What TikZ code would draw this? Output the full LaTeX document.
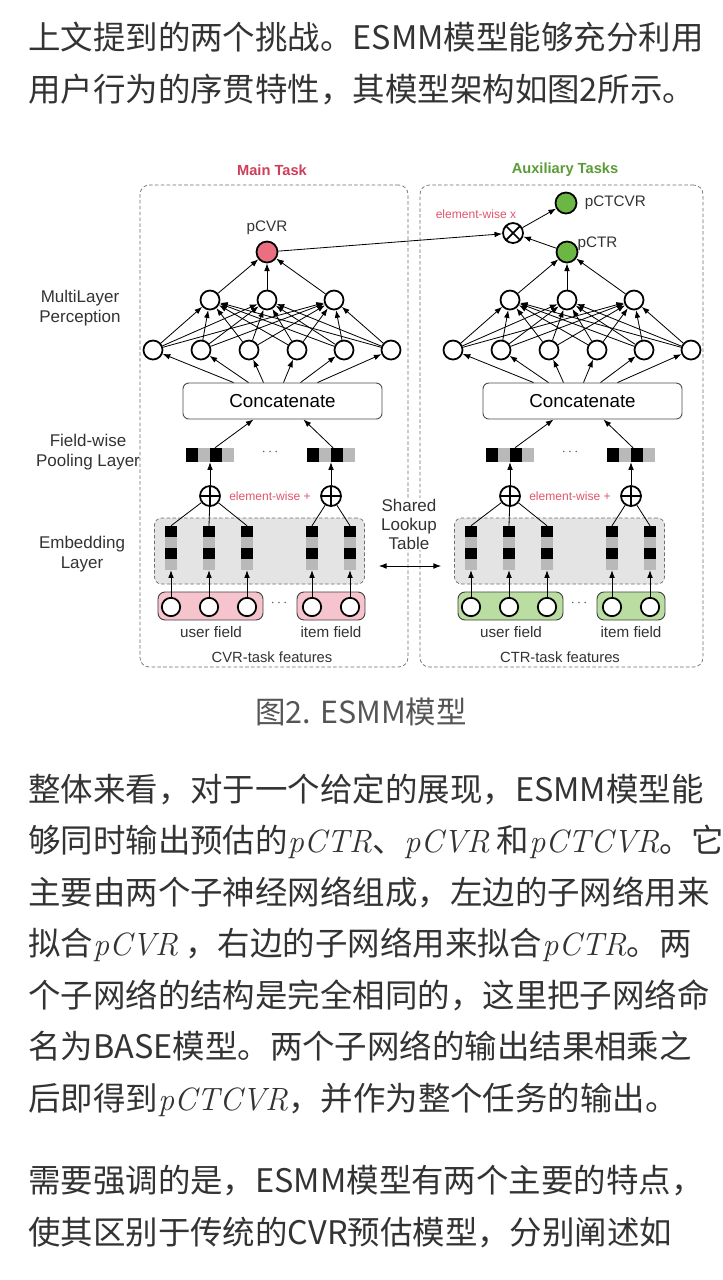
\documentclass[tikz,border=0pt]{standalone}
\usepackage{fontspec}
\setmainfont{Liberation Sans}
\newfontfamily\cjkfont{Noto Sans CJK SC}
\newcommand\pvar[1]{{\fontfamily{lmr}\fontsize{27.5}{33}\selectfont\itshape #1}}
\definecolor{TextGray}{HTML}{333333}
\definecolor{CaptionGray}{HTML}{555555}
\definecolor{MainRed}{HTML}{CF3E5B}
\definecolor{MulRed}{HTML}{E0566D}
\definecolor{AuxGreen}{HTML}{5B9B35}
\definecolor{OutRed}{HTML}{EC6F81}
\definecolor{OutGreen}{HTML}{6CB744}
\definecolor{PinkIn}{HTML}{F5C4CD}
\definecolor{GreenIn}{HTML}{BADDA1}
\definecolor{EmbGray}{HTML}{E4E4E4}
\definecolor{CellGray}{HTML}{B9B9B9}
\definecolor{DashGray}{HTML}{6E6E6E}
\usetikzlibrary{arrows.meta, positioning, calc}
\tikzset{
  neuron/.style={circle, draw=black, line width=1.5pt, fill=white, minimum size=0.57cm, inner sep=0pt},
  opnode/.style={neuron, minimum size=0.6cm},
  plusop/.style={opnode, path picture={\draw[line width=1.5pt] (path picture bounding box.north) -- (path picture bounding box.south) (path picture bounding box.west) -- (path picture bounding box.east);}},
  timesop/.style={opnode, path picture={\draw[line width=1.5pt] (path picture bounding box.north west) -- (path picture bounding box.south east) (path picture bounding box.north east) -- (path picture bounding box.south west);}},
  arr/.style={-{Latex[length=2.3mm, width=1.7mm]}, line width=0.7pt},
  bodyline/.style={anchor=base west, inner sep=0pt, text=TextGray, font=\cjkfont\fontsize{27.7}{33}\selectfont}
}

\begin{document}
\begin{tikzpicture}[x=0.03cm, y=-0.03cm,
  taskbox/.style={draw=DashGray, dash pattern=on 3pt off 2pt, line width=0.6pt, rounded corners=8pt, minimum height=14.46cm},
  title/.style={font=\bfseries\fontsize{12.5}{15}\selectfont},
  lbl/.style={align=center, text=TextGray, font=\fontsize{14.5}{17}\selectfont},
  featlbl/.style={text=TextGray, font=\fontsize{12.6}{15}\selectfont},
  fieldlbl/.style={text=TextGray, font=\fontsize{13}{15}\selectfont},
  outlbl/.style={text=TextGray, font=\fontsize{13}{15}\selectfont},
  oplbl/.style={text=MulRed, font=\fontsize{10.3}{12}\selectfont},
  concat/.style={draw=black!70, line width=0.8pt, rounded corners=5pt, fill=white, minimum width=5.97cm, minimum height=1.08cm, font=\fontsize{16}{19}\selectfont},
  embbox/.style={draw=DashGray, dash pattern=on 3pt off 2pt, line width=0.6pt, rounded corners=6pt, fill=EmbGray, minimum width=6.3cm, minimum height=1.98cm},
  infield/.style={draw=black!75, line width=0.8pt, rounded corners=6pt, minimum height=0.84cm},
  embcol/.style={minimum width=0.36cm, minimum height=1.32cm, inner sep=0pt, fill=CellGray, path picture={
    \fill[black] (path picture bounding box.north west) rectangle ++(0.36cm,-0.33cm);
    \fill[black] ([yshift=-0.66cm]path picture bounding box.north west) rectangle ++(0.36cm,-0.33cm);}},
  poolvec/.style={minimum width=1.44cm, minimum height=0.42cm, inner sep=0pt, fill=CellGray, path picture={
    \fill[black] (path picture bounding box.south west) rectangle ++(0.36cm,0.42cm);
    \fill[black] ([xshift=0.72cm]path picture bounding box.south west) rectangle ++(0.36cm,0.42cm);}},
  dots/.style={text=black!70, font=\fontsize{12}{14}\selectfont}
]
\fill[white] (0,0) rectangle (722,1280);
\useasboundingbox (0,0) rectangle (722,1280);

% text above the figure
\node[bodyline] (intro1) at (28,49) {上文提到的两个挑战。ESMM模型能够充分利用};
\node[bodyline] (intro2) at (28,101) {用户行为的序贯特性，其模型架构如图2所示。};

% the two towers
\node[taskbox, minimum width=8.04cm] (maintask) at (274,426) {};
\node[taskbox, minimum width=8.49cm] (auxtask) at (561.5,426) {};
\node[title, text=MainRed] (maintitle) at (272,170) {Main Task};
\node[title, text=AuxGreen] (auxtitle) at (565,170) {Auxiliary Tasks};

\foreach \side/\dx/\infill/\outfill in {cvr/0/PinkIn/OutRed, ctr/300/GreenIn/OutGreen}{
  % embedding layer and input fields
  \node[embbox] (\side-emb) at ({259.5+\dx},551) {};
  \node[infield, fill=\infill, minimum width=3.15cm] (\side-user) at ({210.5+\dx},606) {};
  \node[infield, fill=\infill, minimum width=2.04cm] (\side-item) at ({331+\dx},606) {};
  \node[dots] (\side-idots) at ({279+\dx},603) {$\cdots$};
  \node[fieldlbl] (\side-userlbl) at ({211+\dx},632) {user field};
  \node[fieldlbl] (\side-itemlbl) at ({331+\dx},632) {item field};
  \foreach \k/\x in {1/171,2/209,3/247,4/312,5/350}{
    \node[neuron, minimum size=0.55cm] (\side-x\k) at ({\x+\dx},607) {};
    \node[embcol] (\side-e\k) at ({\x+\dx},548) {};
    \draw[arr] (\side-x\k) -- (\side-e\k);
  }
  % field-wise pooling
  \node[plusop] (\side-s1) at ({210+\dx},496) {};
  \node[plusop] (\side-s2) at ({331+\dx},496) {};
  \node[oplbl] (\side-addlbl) at ({270+\dx},496) {element-wise +};
  \foreach \k in {1,2,3} \draw[line width=0.7pt] (\side-e\k.north) -- (\side-s1);
  \foreach \k in {4,5} \draw[line width=0.7pt] (\side-e\k.north) -- (\side-s2);
  \node[poolvec] (\side-p1) at ({210+\dx},455) {};
  \node[poolvec] (\side-p2) at ({331+\dx},455) {};
  \node[dots] (\side-pdots) at ({270+\dx},452) {$\cdots$};
  \draw[arr] (\side-s1) -- (\side-p1);
  \draw[arr] (\side-s2) -- (\side-p2);
  % concatenate and MLP
  \node[concat] (\side-cat) at ({282.5+\dx},401) {Concatenate};
  \draw[arr] ($(\side-p1.north)+(5,0)$) -- ($(\side-cat.south)+(-29,0)$);
  \draw[arr] ($(\side-p2.north)+(2,0)$) -- ($(\side-cat.south)+(21,0)$);
  \foreach \i/\x in {1/153,2/201,3/249,4/297,5/344,6/391}
    \node[neuron] (\side-h\i) at ({\x+\dx},350) {};
  \foreach \j/\x in {1/210,2/267,3/334}
    \node[neuron] (\side-g\j) at ({\x+\dx},300) {};
  \foreach \i/\o in {1/-49,2/-34,3/-19,4/1,5/18,6/35}
    \draw[arr] ($(\side-cat.north)+(\o,0)$) -- (\side-h\i);
  \foreach \i in {1,...,6}
    \foreach \j in {1,2,3}
      \draw[arr] (\side-h\i) -- (\side-g\j);
  \node[neuron, fill=\outfill, minimum size=0.63cm] (\side-out) at ({267+\dx},252) {};
  \foreach \j in {1,2,3} \draw[arr] (\side-g\j) -- (\side-out);
}

\node[featlbl] (cvrfeat) at (272,657) {CVR-task features};
\node[featlbl] (ctrfeat) at (560,657) {CTR-task features};

% outputs
\node[outlbl, above=0.05cm of cvr-out] (cvrlbl) {pCVR};
\node[outlbl, anchor=west, inner sep=2pt] (ctrlbl) at (ctr-out.north east) {pCTR};
\node[timesop] (mul) at (513,233) {};
\node[oplbl] (mullbl) at (476,214) {element-wise x};
\node[neuron, fill=OutGreen, minimum size=0.63cm] (ctcvr) at (566,203) {};
\node[outlbl, right=0.15cm of ctcvr, inner sep=2pt] (ctcvrlbl) {pCTCVR};
\draw[arr] (cvr-out) -- (mul);
\draw[arr] (ctr-out) -- (mul);
\draw[arr] (mul) -- (ctcvr);

% layer names
\node[lbl] (mlp) at (80,308) {MultiLayer\\Perception};
\node[lbl] (pool) at (88,452) {Field-wise\\Pooling Layer};
\node[lbl] (embl) at (82,554) {Embedding\\Layer};
\node[lbl, fill=white, inner sep=1pt, font=\fontsize{14.5}{16.2}\selectfont] (lookup) at (409,524) {Shared\\Lookup\\Table};
\draw[{Latex[length=2.3mm, width=1.7mm]}-{Latex[length=2.3mm, width=1.7mm]}, line width=0.7pt] ($(cvr-emb.east)+(14,15)$) -- ($(ctr-emb.west)+(-13,15)$);

% caption and text below
\node[text=CaptionGray, font=\cjkfont\fontsize{26}{30}\selectfont] (caption) at (361,712) {图2. ESMM模型};
\foreach \n/\t in {0/{整体来看，对于一个给定的展现，ESMM模型能},
                   1/{够同时输出预估的\pvar{pCTR}、\pvar{pCVR} 和\pvar{pCTCVR}。它},
                   2/{主要由两个子神经网络组成，左边的子网络用来},
                   3/{拟合\pvar{pCVR} ，右边的子网络用来拟合\pvar{pCTR}。两},
                   4/{个子网络的结构是完全相同的，这里把子网络命},
                   5/{名为BASE模型。两个子网络的输出结果相乘之},
                   6/{后即得到\pvar{pCTCVR}，并作为整个任务的输出。}}
  \node[bodyline] (body\n) at (28,{801+51.5*\n}) {\t};
\node[bodyline] (note1) at (28,1192) {需要强调的是，ESMM模型有两个主要的特点，};
\node[bodyline] (note2) at (28,1244) {使其区别于传统的CVR预估模型，分别阐述如};
\end{tikzpicture}
\end{document}
